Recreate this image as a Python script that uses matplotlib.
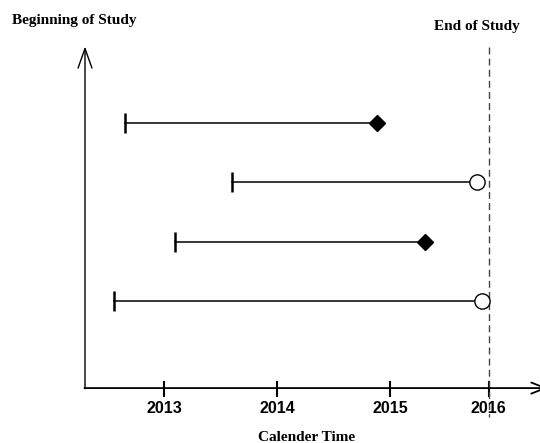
import matplotlib
matplotlib.use("Agg")
import matplotlib.pyplot as plt

# subjects (top to bottom): entry year, exit year, event (True = diamond, False = censored circle)
entry = [2012.66, 2013.60, 2013.10, 2012.56]
exit_ = [2014.88, 2015.76, 2015.30, 2015.80]
event = [True, False, True, False]
rows = [0, 1, 2, 3]

tick_pos = [2013.0, 2014.0, 2014.995, 2015.86]
tick_labels = ["2013", "2014", "2015", "2016"]
study_end = 2015.86

serif = "Liberation Serif"
sans = "Liberation Sans"

fig = plt.figure(figsize=(5.40, 4.43), dpi=100)
ax = fig.add_axes([0, 0, 1, 1])
ax.set_xlim(2011.555, 2016.313)
ax.set_ylim(5.396, -2.074)
ax.axis("off")

x0 = 2012.304   # vertical axis position
y_axis = 4.47   # horizontal axis position

# axes with open arrows
ax.annotate("", xy=(x0, -1.29), xytext=(x0, y_axis + 0.01),
            arrowprops=dict(arrowstyle="->,head_length=1.4,head_width=0.5", lw=1.0,
                            color="black", shrinkA=0, shrinkB=0))
ax.annotate("", xy=(2016.38, y_axis), xytext=(x0 - 0.005, y_axis),
            arrowprops=dict(arrowstyle="->,head_length=1.0,head_width=0.4", lw=1.3,
                            color="black", shrinkA=0, shrinkB=0),
            annotation_clip=False)

# ticks
for tp, tl in zip(tick_pos, tick_labels):
    ax.plot([tp, tp], [y_axis - 0.1, y_axis + 0.13], color="black", lw=1.5)
    ax.text(tp, y_axis + 0.34, tl, ha="center", va="center", family=sans,
            fontweight="bold", fontsize=11.5)

# end of study line
ax.plot([study_end, study_end], [-1.28, 4.95], color="#444444", lw=1.0,
        linestyle=(0, (5, 3)))

# subject follow-up lines
for r, s, e, ev in zip(rows, entry, exit_, event):
    ax.plot([s, e], [r, r], color="black", lw=1.1, zorder=2)
    ax.plot(s, r, marker="|", markersize=14, mew=1.8, color="black", zorder=3)
    if ev:
        ax.plot(e, r, marker="D", markersize=8, color="black", zorder=4)
    else:
        ax.plot(e, r, marker="o", markersize=11, mfc="white", mec="black", mew=1.0, zorder=4)

ax.text(2011.66, -1.73, "Beginning of Study", family=serif, fontweight="bold",
        fontsize=11, ha="left", va="center")
ax.text(2015.758, -1.63, "End of Study", family=serif, fontweight="bold",
        fontsize=11, ha="center", va="center")
ax.text(2014.26, 5.30, "Calender Time", family=serif, fontweight="bold",
        fontsize=11, ha="center", va="center")

fig.savefig("out.png", dpi=100)
